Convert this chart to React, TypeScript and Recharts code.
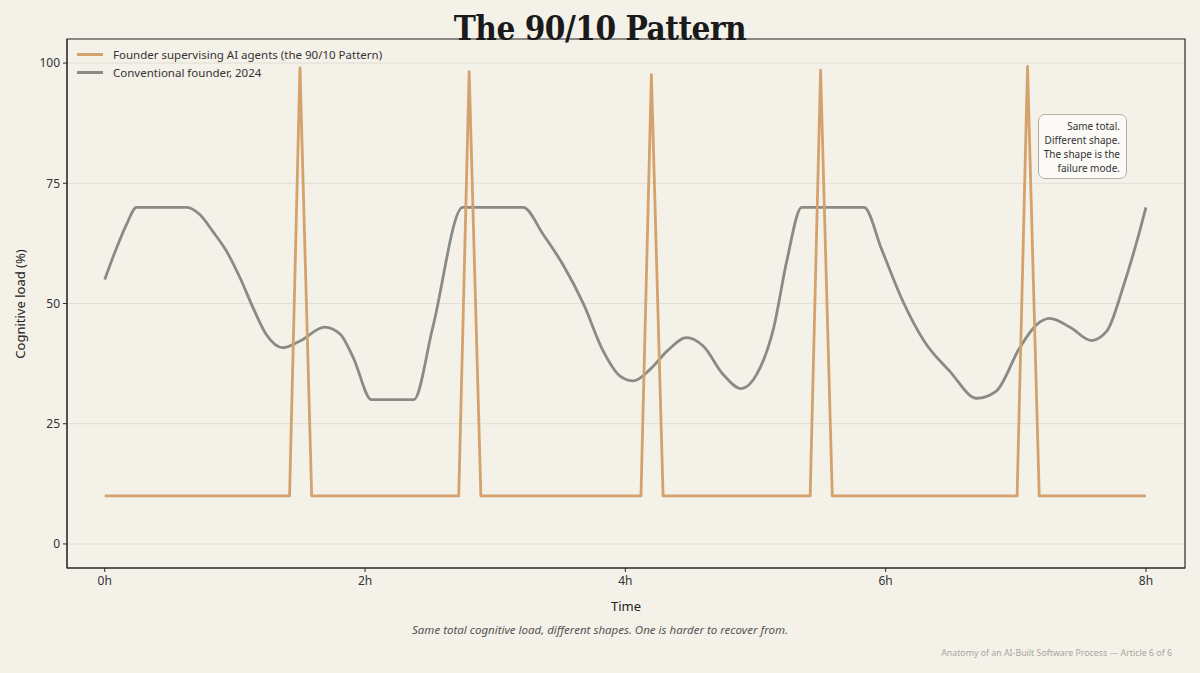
import React from 'react';
import { LineChart, Line, XAxis, YAxis, CartesianGrid, Legend, ReferenceArea } from 'recharts';

// hours on the x axis, cognitive load in % on the y axis
const founderTimes = [0, 1.42, 1.5, 1.59, 2.72, 2.8, 2.89, 4.12, 4.2, 4.29, 5.42, 5.5, 5.59, 7.01, 7.09, 7.18, 8];
const founderLoad = [10, 10, 99, 10, 10, 98.2, 10, 10, 97.6, 10, 10, 98.5, 10, 10, 99.3, 10, 10];

const conventionalTimes = [
  0, 0.09, 0.167, 0.244, 0.633, 0.73, 0.83, 0.935, 1.04, 1.14, 1.24, 1.37, 1.5, 1.69, 1.81, 1.91, 2.05,
  2.375, 2.52, 2.75, 3.215, 3.37, 3.52, 3.68, 3.83, 3.96, 4.06, 4.19, 4.32, 4.47, 4.6, 4.75, 4.89, 5.01,
  5.14, 5.24, 5.355, 5.834, 5.97, 6.12, 6.3, 6.49, 6.7, 6.85, 7.03, 7.16, 7.26, 7.42, 7.58, 7.7, 7.83,
  7.93, 8,
];
const conventionalLoad = [
  55, 61.5, 66.4, 70, 70, 68.5, 65, 60.9, 55.3, 49.1, 43.6, 40.8, 42.2, 45.1, 43.6, 38.7, 30,
  30, 45, 70, 70, 64.3, 58.1, 49.8, 40.1, 34.9, 33.9, 36.3, 40.1, 42.9, 41.1, 35.3, 32.3, 35.3,
  45, 58.8, 70, 70, 61.2, 51.2, 42, 36, 30.3, 31.8, 40.8, 45.6, 46.9, 45, 42.3, 44.3, 53.9,
  62.9, 70,
];

const xTicks = [0, 2, 4, 6, 8];
const yTicks = [0, 25, 50, 75, 100];
const seriesNames = ['Founder supervising AI agents (the 90/10 Pattern)', 'Conventional founder, 2024'];
const seriesColors = ['#d4a26c', '#8a8a86'];
const noteLines = ['Same total.', 'Different shape.', 'The shape is the', 'failure mode.'];

const founderData = founderTimes.map((t, i) => ({ t, load: founderLoad[i] }));
const conventionalData = conventionalTimes.map((t, i) => ({ t, load: conventionalLoad[i] }));

const BG = '#f4f1e9';
const SANS = '"Noto Sans", "Open Sans", sans-serif';

const LegendBox = () => (
  <div style={{ fontFamily: SANS, fontSize: 11.5, color: '#333' }}>
    {seriesNames.map((name, i) => (
      <div key={name} style={{ display: 'flex', alignItems: 'center', height: 18 }}>
        <div style={{ width: 26, height: 3, background: seriesColors[i], marginRight: 10 }} />
        <span>{name}</span>
      </div>
    ))}
  </div>
);

export default function App() {
  return (
    <div style={{ position: 'relative', width: 1200, height: 673, background: BG, overflow: 'hidden' }}>
      <style>{'body{margin:0;background:' + BG + '}'}</style>
      <LineChart
        width={1200}
        height={673}
        margin={{ top: 39, right: 15, bottom: 75, left: 7 }}
      >
        <CartesianGrid vertical={false} stroke="#e2ded5" strokeWidth={1} />
        <XAxis
          type="number"
          dataKey="t"
          domain={[-0.29, 8.3]}
          ticks={xTicks}
          tickFormatter={(v) => `${v}h`}
          allowDataOverflow
          height={30}
          stroke="#2b2b2b"
          tickSize={4}
          tickMargin={4}
          tick={{ fill: '#333', fontSize: 12, fontFamily: SANS }}
        />
        <YAxis
          type="number"
          dataKey="load"
          domain={[-5, 105]}
          ticks={yTicks}
          allowDataOverflow
          width={60}
          stroke="#2b2b2b"
          tickSize={4}
          tickMargin={3}
          tick={{ fill: '#333', fontSize: 12, fontFamily: SANS }}
        />
        <ReferenceArea x1={-0.29} x2={8.3} y1={-5} y2={105} fill="none" stroke="#2b2b2b" strokeWidth={1.2} />
        <Line
          data={conventionalData}
          dataKey="load"
          type="monotone"
          stroke={seriesColors[1]}
          strokeWidth={2.8}
          strokeLinejoin="round"
          dot={false}
          isAnimationActive={false}
        />
        <Line
          data={founderData}
          dataKey="load"
          type="linear"
          stroke={seriesColors[0]}
          strokeWidth={2.8}
          strokeLinejoin="round"
          dot={false}
          isAnimationActive={false}
        />
        <Legend
          layout="vertical"
          align="center"
          verticalAlign="middle"
          wrapperStyle={{ top: 45, left: 77, width: 400 }}
          content={() => <LegendBox />}
        />
      </LineChart>

      <div style={{ position: 'absolute', top: 9, left: 0, width: 1200, textAlign: 'center', fontFamily: '"DejaVu Serif", serif', fontWeight: 'bold', fontSize: 33, color: '#1a1a1a', letterSpacing: -0.5, fontStretch: 'condensed' }}>
        The 90/10 Pattern
      </div>
      <div style={{ position: 'absolute', left: 6, top: 304, transform: 'translate(0,-50%) rotate(-90deg)', transformOrigin: 'center', width: 28, display: 'flex', justifyContent: 'center' }}>
        <span style={{ whiteSpace: 'nowrap', fontFamily: SANS, fontSize: 13, color: '#222' }}>Cognitive load (%)</span>
      </div>
      <div style={{ position: 'absolute', top: 597, left: 67, width: 1118, textAlign: 'center', fontFamily: SANS, fontSize: 13, color: '#222' }}>
        Time
      </div>
      <div style={{ position: 'absolute', top: 622, left: 0, width: 1200, textAlign: 'center', fontFamily: SANS, fontSize: 11.5, fontStyle: 'italic', color: '#555' }}>
        Same total cognitive load, different shapes. One is harder to recover from.
      </div>
      <div style={{ position: 'absolute', top: 647, right: 28, fontFamily: SANS, fontSize: 8.8, color: '#a9a59d' }}>
        Anatomy of an AI-Built Software Process — Article 6 of 6
      </div>
      <div style={{ position: 'absolute', left: 1038, top: 114, width: 89, height: 65, boxSizing: 'border-box', border: '1px solid #b3aea6', borderRadius: 7, background: '#fbfaf6', padding: '4px 6px 0 0', textAlign: 'right', fontFamily: SANS, fontSize: 10, lineHeight: '14px', color: '#333' }}>
        {noteLines.map((l) => (
          <div key={l}>{l}</div>
        ))}
      </div>
    </div>
  );
}
